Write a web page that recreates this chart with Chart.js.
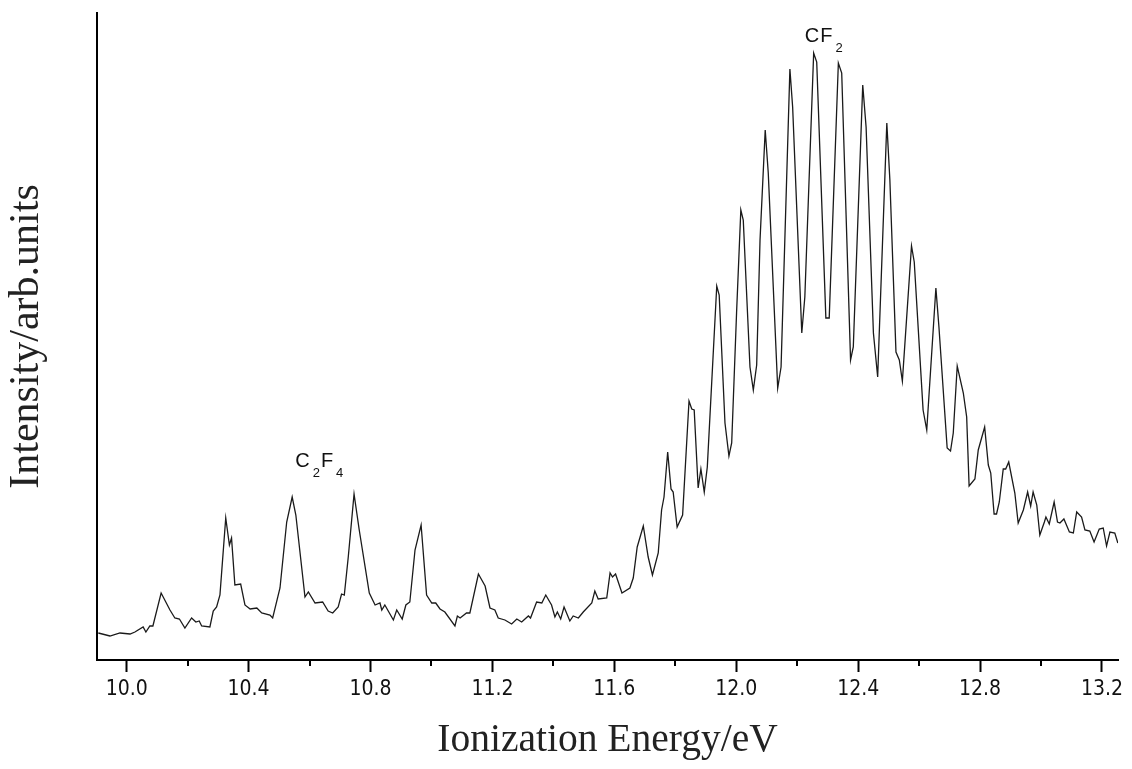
<!DOCTYPE html>
<html><head><meta charset="utf-8">
<script src="https://cdn.jsdelivr.net/npm/chart.js@4.4.1/dist/chart.umd.min.js"></script>
<style>html,body{margin:0;padding:0;background:#fff;}#wrap{width:1132px;height:769px;}</style>
</head><body><div id="wrap"><canvas id="c" width="1132" height="769"></canvas></div>
<script>
const energy = [9.907,9.945,9.978,10.011,10.027,10.054,10.063,10.076,10.086,10.113,10.142,10.158,10.173,10.191,10.213,10.227,10.238,10.246,10.273,10.284,10.295,10.306,10.325,10.337,10.344,10.355,10.374,10.388,10.405,10.427,10.443,10.470,10.479,10.503,10.525,10.543,10.555,10.585,10.596,10.618,10.643,10.661,10.676,10.694,10.705,10.714,10.727,10.746,10.763,10.796,10.815,10.831,10.837,10.847,10.875,10.886,10.904,10.916,10.929,10.946,10.966,10.984,11.001,11.014,11.028,11.044,11.077,11.085,11.094,11.115,11.126,11.154,11.176,11.192,11.208,11.219,11.241,11.263,11.280,11.296,11.318,11.325,11.345,11.362,11.375,11.394,11.405,11.413,11.424,11.435,11.454,11.465,11.482,11.498,11.526,11.536,11.547,11.575,11.586,11.594,11.604,11.625,11.651,11.662,11.675,11.695,11.711,11.725,11.744,11.755,11.763,11.775,11.786,11.793,11.806,11.824,11.845,11.854,11.862,11.875,11.884,11.895,11.905,11.936,11.944,11.963,11.976,11.985,12.001,12.015,12.023,12.045,12.056,12.067,12.078,12.095,12.105,12.136,12.147,12.176,12.185,12.215,12.225,12.254,12.264,12.294,12.305,12.335,12.346,12.375,12.384,12.415,12.426,12.450,12.464,12.494,12.504,12.524,12.535,12.545,12.575,12.584,12.613,12.625,12.655,12.665,12.692,12.703,12.712,12.725,12.745,12.756,12.764,12.783,12.794,12.815,12.827,12.835,12.846,12.854,12.863,12.876,12.884,12.894,12.914,12.925,12.942,12.956,12.966,12.974,12.986,12.996,13.011,13.016,13.027,13.043,13.054,13.062,13.075,13.093,13.106,13.117,13.133,13.144,13.160,13.174,13.191,13.204,13.215,13.226,13.242,13.252];
const intensity = [27,24,27,26,28,33,28,34,34,67,50,42,41,32,42,38,39,34,33,49,53,65,142,115,122,75,76,55,51,52,47,45,42,72,138,163,145,63,68,57,58,49,47,53,66,65,103,166,130,67,55,57,50,55,40,50,41,55,58,110,135,65,57,57,51,48,34,44,42,47,47,86,74,52,50,42,40,36,41,38,44,42,58,57,65,55,43,48,41,53,39,44,42,48,57,69,61,62,87,83,86,67,72,82,113,134,103,85,107,150,163,208,171,168,133,145,259,251,250,172,191,168,193,374,365,237,204,217,347,450,440,293,270,295,420,530,487,272,293,591,553,327,363,607,598,342,342,597,587,300,313,575,533,327,283,537,480,308,300,279,414,398,250,230,372,333,212,209,227,294,267,243,174,181,210,233,195,187,146,146,158,191,191,198,167,137,150,168,154,168,155,125,138,143,136,158,138,137,141,128,127,148,143,130,129,118,131,132,114,128,127,117];
const majorTicks = [10.0,10.4,10.8,11.2,11.6,12.0,12.4,12.8,13.2];
const minorTicks = [10.2,10.6,11.0,11.4,11.8,12.2,12.6,13.0];
const tickLabels = ['10.0','10.4','10.8','11.2','11.6','12.0','12.4','12.8','13.2'];
const xTitle = 'Ionization Energy/eV';
const yTitle = 'Intensity/arb.units';
const peakLabelParts = [[['C',0],['2',1],['F',0],['4',1]], [['C',0],['F',0],['2',1]]];
const peakLabelX = [10.553, 12.225];
const peakLabelY = [193, 618];

const isMajor = v => majorTicks.some(m => Math.abs(m - v) < 1e-6);

const minorTickPlugin = {
  id: 'minorTicks',
  afterDraw(chart) {
    const s = chart.scales.x, ctx = chart.ctx;
    ctx.save();
    ctx.strokeStyle = '#000'; ctx.lineWidth = 2;
    minorTicks.forEach(v => {
      const px = Math.round(s.getPixelForValue(v));
      ctx.beginPath(); ctx.moveTo(px, s.top); ctx.lineTo(px, s.top + 6); ctx.stroke();
    });
    ctx.restore();
  }
};
const peakLabelPlugin = {
  id: 'peakLabels',
  afterDatasetsDraw(chart) {
    const ctx = chart.ctx, xs = chart.scales.x, ys = chart.scales.y;
    ctx.save();
    ctx.fillStyle = '#111'; ctx.textBaseline = 'alphabetic'; ctx.textAlign = 'left';
    peakLabelParts.forEach((parts, i) => {
      let x = xs.getPixelForValue(peakLabelX[i]);
      const y = ys.getPixelForValue(peakLabelY[i]);
      parts.forEach(([t, sub]) => {
        ctx.font = sub ? '13px "Liberation Sans", Arial, sans-serif' : '20px "Liberation Sans", Arial, sans-serif';
        if (sub) x += 2;
        ctx.fillText(t, x, sub ? y + 10 : y);
        x += ctx.measureText(t).width + 1;
      });
    });
    ctx.restore();
  }
};

new Chart(document.getElementById('c'), {
  type: 'line',
  data: { datasets: [{
    data: energy.map((e, i) => ({x: e, y: intensity[i]})),
    borderColor: '#1a1a1a', borderWidth: 1.3, pointRadius: 0, tension: 0, fill: false
  }]},
  options: {
    responsive: false, animation: false, devicePixelRatio: 1,
    layout: { padding: { left: 0, right: 14, top: 13, bottom: 0 } },
    plugins: { legend: { display: false }, tooltip: { enabled: false } },
    scales: {
      x: {
        type: 'linear', min: 9.9026, max: 13.2525,
        afterBuildTicks: s => { s.ticks = [...majorTicks, ...minorTicks].sort((a, b) => a - b).map(v => ({value: v})); },
        afterFit: s => { s.height = 109; },
        ticks: {
          autoSkip: false, maxRotation: 0, padding: 5, color: '#111',
          font: { family: "'Liberation Sans Narrow','DejaVu Sans Condensed','Arial Narrow',sans-serif", size: 21 },
          callback: v => { const i = majorTicks.findIndex(m => Math.abs(m - v) < 1e-6); return i >= 0 ? tickLabels[i] : ''; }
        },
        grid: { drawOnChartArea: false, drawTicks: true, tickLength: 12, tickWidth: 2,
          tickColor: c => (c.tick && isMajor(c.tick.value)) ? '#000' : 'rgba(0,0,0,0)' },
        border: { display: true, color: '#000', width: 2 },
        title: { display: true, text: xTitle, color: '#222', padding: { top: 0, bottom: 5 },
          font: { family: "'Liberation Serif','Times New Roman',serif", size: 39.5, weight: 'normal' } }
      },
      y: {
        min: 0, max: 647,
        afterFit: s => { s.width = 97; },
        ticks: { display: false },
        grid: { display: false, drawTicks: false },
        border: { display: true, color: '#000', width: 2 },
        title: { display: true, text: yTitle, color: '#222', padding: { top: 2, bottom: 0 },
          font: { family: "'Liberation Serif','Times New Roman',serif", size: 42, weight: 'normal' } }
      }
    }
  },
  plugins: [minorTickPlugin, peakLabelPlugin]
});
</script></body></html>
